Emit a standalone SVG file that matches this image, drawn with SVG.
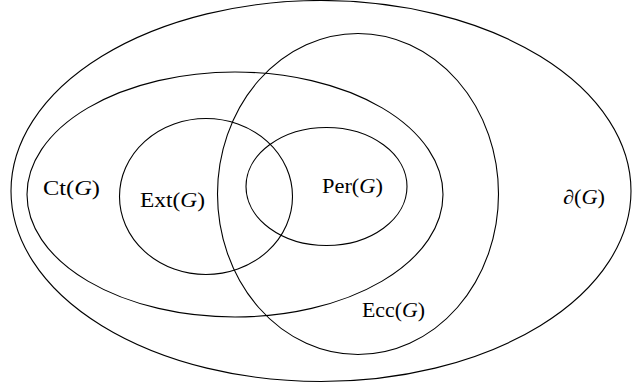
<svg xmlns="http://www.w3.org/2000/svg" width="632" height="387" viewBox="0 0 632 387">
<style>
.set{fill:none;stroke:#000;stroke-width:1.1}
.lbl{font-family:"Liberation Serif","Times New Roman",serif;font-size:20px;fill:#000}
.it{font-style:italic}
</style>
<rect width="632" height="387" fill="#fff"/>
<g id="boundary">
<ellipse class="set" cx="321" cy="191" rx="310" ry="190.5"/>
<text class="lbl" x="563" y="204" textLength="42" lengthAdjust="spacingAndGlyphs">∂(<tspan class="it">G</tspan>)</text>
</g>
<g id="ct">
<ellipse class="set" cx="235" cy="194.5" rx="208" ry="122.5"/>
<text class="lbl" x="43" y="195" textLength="57" lengthAdjust="spacingAndGlyphs">Ct(<tspan class="it">G</tspan>)</text>
</g>
<g id="ext">
<ellipse class="set" cx="206" cy="196.5" rx="86.5" ry="78"/>
<text class="lbl" x="140" y="207" textLength="65" lengthAdjust="spacingAndGlyphs">Ext(<tspan class="it">G</tspan>)</text>
</g>
<g id="per">
<ellipse class="set" cx="326.5" cy="186.5" rx="80.5" ry="59"/>
<text class="lbl" x="322" y="193" textLength="61" lengthAdjust="spacingAndGlyphs">Per(<tspan class="it">G</tspan>)</text>
</g>
<g id="ecc">
<ellipse class="set" cx="358" cy="194" rx="140.5" ry="160.5"/>
<text class="lbl" x="362" y="317" textLength="63" lengthAdjust="spacingAndGlyphs">Ecc(<tspan class="it">G</tspan>)</text>
</g>
<g id="connectors"/>
</svg>
